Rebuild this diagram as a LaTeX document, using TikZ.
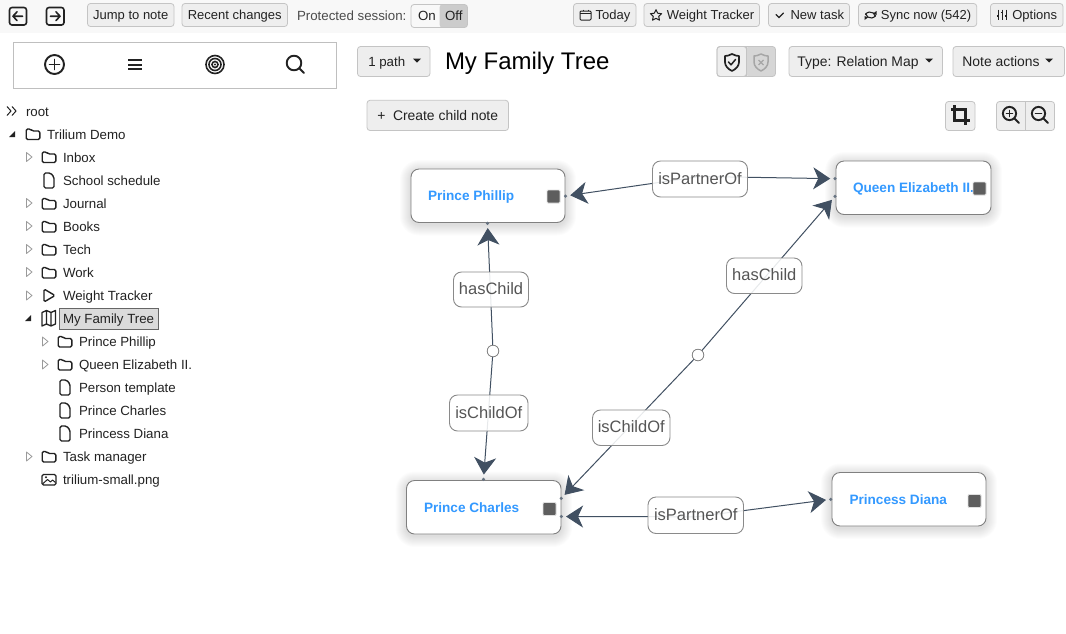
\documentclass[tikz,border=0pt]{standalone}
\usepackage{fontspec}
\setmainfont{Liberation Sans}
\usetikzlibrary{arrows.meta}
\definecolor{barbg}{HTML}{F8F8F8}
\definecolor{btnbg}{HTML}{EEEEEE}
\definecolor{btnline}{HTML}{C4C4C4}
\definecolor{ink}{HTML}{222222}
\definecolor{relc}{HTML}{415062}
\definecolor{notec}{HTML}{3399FF}
\definecolor{sqc}{HTML}{5E5E5E}
\definecolor{lblink}{HTML}{555555}
\definecolor{lblline}{HTML}{8A8A8A}
\definecolor{tri}{HTML}{9A9A9A}
\tikzset{
  btn/.style={draw=btnline,fill=btnbg,line width=.8pt,rounded corners=3pt,inner sep=0pt,outer sep=0pt,text=ink,font=\fontsize{13}{16}\selectfont,text height=10.8pt,text depth=1.6pt},
  plain/.style={inner sep=0pt,outer sep=0pt,text=ink},
  treetxt/.style={plain,anchor=base west,font=\fontsize{13.3}{16}\selectfont},
  notebox/.style={draw=black!50,fill=white,line width=.9pt,rounded corners=8pt,inner sep=0pt,outer sep=0pt},
  notetxt/.style={plain,text=notec,anchor=base west,font=\fontsize{13.6}{16}\bfseries\selectfont},
  notesq/.style={fill=sqc,draw=black!12,line width=.8pt,rounded corners=1pt,minimum size=13pt,inner sep=0pt},
  anchordot/.style={circle,fill=relc!80!white,draw=none,minimum size=3.5pt,inner sep=0pt,outer sep=3pt},
  midcirc/.style={circle,fill=white,draw=black!50,line width=.7pt,minimum size=11.5pt,inner sep=0pt},
  rellbl/.style={draw=lblline,line width=.9pt,fill=white,fill opacity=.88,text opacity=1,rounded corners=8pt,inner sep=0pt,outer sep=0pt,text=lblink,font=\fontsize{16.5}{19}\selectfont,text height=12.5pt,text depth=2.5pt},
  rel/.style={draw=relc,line width=1pt,{Stealth[length=17pt,width=22pt,inset=5pt,fill=relc]}-{Stealth[length=17pt,width=22pt,inset=5pt,fill=relc]}},
  ico/.style={draw=ink,line width=1.3pt,line join=round,line cap=round},
  folder/.pic={\draw[ico,line width=1.4pt,rounded corners=1.5pt] (-6.8,5.5) -- (-6.8,-5) -- (-2.5,-5) -- (-.8,-3) -- (6.8,-3) -- (6.8,5.5) -- cycle;},
  docicon/.pic={\draw[ico,line width=1.4pt,rounded corners=1.5pt] (-5,7.5) -- (-5,-7.5) -- (1.5,-7.5) -- (5,-3.5) -- (5,7.5) -- cycle;},
  opentri/.pic={\fill[ink] (-3,3) -- (3,3) -- (3,-3) -- cycle;},
  closedtri/.pic={\draw[tri,line width=.8pt,line join=round] (-2.5,-4.5) -- (3,0) -- (-2.5,4.5) -- cycle;}
}
\newcommand{\bbtn}[6]{\node[btn,minimum width={#3-#2},minimum height={#5-#4}] (#1) at ({(#2+#3)/2},{(#4+#5)/2}) {#6};}
\newcommand{\treerow}[4]{\node[treetxt] (#1) at (#2,{#3+5.4}) {#4};}
\newcommand{\caretmark}[2]{\fill[ink] ({#1-4},{#2-2}) -- ({#1+4},{#2-2}) -- (#1,{#2+2}) -- cycle;}
\newcommand{\softshadow}[4]{\foreach \s in {1,...,11}{\fill[black,fill opacity=.013,rounded corners={8+\s}] ({#1-\s},{#2+2-\s}) rectangle ({#3+\s},{#4+2+\s});}}
\newcommand{\lblnode}[6]{\node[rellbl,minimum width={#3-#2},minimum height={#5-#4}] (#1) at ({(#2+#3)/2},{(#4+#5)/2}) {#6};}
\begin{document}
\begin{tikzpicture}[x=1pt,y=-1pt]
\useasboundingbox (0,0) rectangle (1066,633);
\fill[white] (0,0) rectangle (1066,633);
\fill[barbg] (0,0) rectangle (1066,32.5);

% top bar
\draw[ico,line width=1.6pt,rounded corners=2.5pt] (9.5,7.5) rectangle (26.5,25);
\draw[ico,line width=1.6pt] (22.5,16.2) -- (13,16.2) (17,11.8) -- (13,16.2) -- (17,20.6);
\draw[ico,line width=1.6pt,rounded corners=2.5pt] (46.5,7.5) rectangle (64,25);
\draw[ico,line width=1.6pt] (50.5,16.2) -- (60,16.2) (56,11.8) -- (60,16.2) -- (56,20.6);
\bbtn{jump}{87.5}{174}{3.5}{26.5}{Jump to note}
\bbtn{recent}{182}{287.5}{3.5}{26.5}{Recent changes}
\node[treetxt,text=black!70] (prot) at (297,20) {Protected session:};
\fill[black!20,rounded corners=3pt] (439.5,4.5) rectangle (467.5,27.5);
\draw[btnline,line width=.8pt,rounded corners=3pt] (411,4.5) rectangle (467.5,27.5);
\node[treetxt] (onlbl) at (418,20.5) {On};
\node[treetxt] (offlbl) at (445,20.5) {Off};
\bbtn{today}{573.5}{636}{3.5}{26.5}{\rule{16.5pt}{0pt}Today}
\bbtn{wt}{644}{759.5}{3.5}{26.5}{\rule{17.4pt}{0pt}Weight Tracker}
\bbtn{newtask}{768.5}{849.5}{3.5}{26.5}{\rule{16.6pt}{0pt}New task}
\bbtn{sync}{858.5}{976.7}{3.5}{26.5}{\rule{17pt}{0pt}Sync now (542)}
\bbtn{options}{990.5}{1063}{3.5}{26.5}{\rule{16pt}{0pt}Options}
% small toolbar icons
\draw[ink,line width=1pt,rounded corners=1pt] (580,11) rectangle (591,20);
\draw[ink,line width=1pt] (580,13.8) -- (591,13.8) (583,9.5) -- (583,11) (588,9.5) -- (588,11);
\draw[ink,line width=1pt,line join=round] (656,9.6) -- (657.7,13.2) -- (661.6,13.7) -- (658.7,16.4) -- (659.5,20.2) -- (656,18.3) -- (652.5,20.2) -- (653.3,16.4) -- (650.4,13.7) -- (654.3,13.2) -- cycle;
\draw[ink,line width=1.1pt,line cap=round] (776,14.5) -- (779,17.5) -- (783.5,13);
\draw[ink,line width=1.1pt] (865.5,13.5) arc[start angle=190,end angle=330,x radius=5.5,y radius=-5.5];
\draw[ink,line width=1.1pt] (875.5,16.5) arc[start angle=10,end angle=150,x radius=5.5,y radius=-5.5];
\fill[ink] (876.5,11) -- (876.5,15) -- (873,13.5) -- cycle (864.5,20) -- (864.5,16) -- (868,17.5) -- cycle;
\draw[ink,line width=1pt] (998,9.5) -- (998,20) (1002,9.5) -- (1002,20) (1006,9.5) -- (1006,20);
\draw[ink,line width=1.6pt] (996.8,16) -- (999.2,16) (1000.8,12.5) -- (1003.2,12.5) (1004.8,16) -- (1007.2,16);

% left panel
\draw[black!25,line width=.9pt] (13.5,42.5) rectangle (336.5,88);
\draw[ico,line width=1.9pt] (54.5,64.5) circle[radius=9.5];
\draw[ico,line width=1.9pt] (54.5,59.5) -- (54.5,69.5) (49.5,64.5) -- (59.5,64.5);
\draw[ink,line width=2pt] (128,60) -- (142,60) (128,64.5) -- (142,64.5) (128,69) -- (142,69);
\draw[ink,line width=1.6pt] (215,64.5) circle[radius=9] circle[radius=6] circle[radius=3];
\fill[ink] (215,64.5) circle[radius=1.2];
\draw[ico,line width=1.9pt] (294,63) circle[radius=7.3] (299.5,68.5) -- (304,73);

% tree
\draw[ink,line width=1pt] (7,106.5) -- (11,111) -- (7,115.5) (12,106.5) -- (16,111) -- (12,115.5);
\treerow{root}{26}{111}{root}
\pic at (12,134) {opentri};
\pic at (33,134) {folder};
\treerow{demo}{47}{134}{Trilium Demo}
\pic at (29,157) {closedtri};
\pic at (49,157) {folder};
\treerow{inbox}{63}{157}{Inbox}
\pic at (49,180.5) {docicon};
\treerow{school}{63}{180}{School schedule}
\pic at (29,203) {closedtri};
\pic at (49,203.5) {folder};
\treerow{journal}{63}{203}{Journal}
\pic at (29,226) {closedtri};
\pic at (49,226.5) {folder};
\treerow{books}{63}{226}{Books}
\pic at (29,249) {closedtri};
\pic at (49,249.5) {folder};
\treerow{tech}{63}{249}{Tech}
\pic at (29,272) {closedtri};
\pic at (49,272.5) {folder};
\treerow{work}{63}{272}{Work}
\pic at (29,295.5) {closedtri};
\draw[ico,line width=1.4pt,rounded corners=1.5pt] (44,289) -- (55,295.5) -- (44,302) -- cycle;
\treerow{tracker}{63}{295}{Weight Tracker}
\pic at (28,318) {opentri};
\draw[ico,line width=1.3pt,line join=round] (42,312.5) -- (46.5,310.5) -- (51,312.5) -- (55.5,310.5) -- (55.5,324) -- (51,326) -- (46.5,324) -- (42,326) -- cycle (46.5,310.5) -- (46.5,324) (51,312.5) -- (51,326);
\fill[black!14] (59.5,308.5) rectangle (158,329);
\draw[black!60,line width=.9pt] (59.5,308.5) rectangle (158,329);
\treerow{famtree}{63}{318}{My Family Tree}
\pic at (45,341.5) {closedtri};
\pic at (65,341.5) {folder};
\treerow{tphil}{79}{341}{Prince Phillip}
\pic at (45,364.5) {closedtri};
\pic at (65,364.5) {folder};
\treerow{tqueen}{79}{364}{Queen Elizabeth II.}
\pic at (65,387.5) {docicon};
\treerow{tperson}{79}{387}{Person template}
\pic at (65,410.5) {docicon};
\treerow{tcharles}{79}{410}{Prince Charles}
\pic at (65,433.5) {docicon};
\treerow{tdiana}{79}{433}{Princess Diana}
\pic at (29,456.5) {closedtri};
\pic at (49,456.5) {folder};
\treerow{tasks}{63}{456}{Task manager}
\draw[ink,line width=1.3pt,rounded corners=1.5pt] (42,474.5) rectangle (56,485);
\draw[ink,line width=1pt,line join=round] (43,483.5) -- (47.5,479.5) -- (50.5,482) -- (52.5,480) -- (55.5,482.5);
\fill[ink] (46,477.3) circle[radius=1.1];
\treerow{png}{63}{479}{trilium-small.png}

% header
\bbtn{path}{357.5}{430}{46.5}{76.5}{\fontsize{13.3}{16}\selectfont 1 path\rule{14pt}{0pt}}
\caretmark{417}{60.5}
\node[plain,anchor=base west,text=black,font=\fontsize{24}{28}\selectfont] (title) at (445,69.5) {My Family Tree};
\bbtn{shield}{717}{746.5}{46.5}{76.5}{}
\fill[black!16,rounded corners=3pt] (746.5,46.5) rectangle (775.5,76.5);
\draw[btnline,line width=.8pt,rounded corners=3pt] (717,46.5) rectangle (775.5,76.5);
\draw[btnline,line width=.8pt] (746.5,46.5) -- (746.5,76.5);
\draw[ico,line width=1.7pt] (732,54) .. controls (729,55.5) and (727,56) .. (725,56) -- (725,62) .. controls (725,66) and (728,69) .. (732,71) .. controls (736,69) and (739,66) .. (739,62) -- (739,56) .. controls (737,56) and (735,55.5) .. (732,54) -- cycle;
\draw[ico,line width=1.5pt] (728.5,62) -- (731,64.8) -- (735.5,59.5);
\draw[black!35,line width=1.5pt,line join=round] (761,54) .. controls (758,55.5) and (756,56) .. (754,56) -- (754,62) .. controls (754,66) and (757,69) .. (761,71) .. controls (765,69) and (768,66) .. (768,62) -- (768,56) .. controls (766,56) and (764,55.5) .. (761,54) -- cycle;
\draw[black!35,line width=1.2pt] (758.5,60) -- (763.5,65) (763.5,60) -- (758.5,65);
\bbtn{typebtn}{789}{942.5}{46.5}{76.5}{\fontsize{13.9}{16}\selectfont Type: Relation Map\rule{15.5pt}{0pt}}
\caretmark{929}{60.5}
\bbtn{actions}{953}{1064.5}{46.5}{76.5}{\fontsize{13.9}{16}\selectfont Note actions\rule{15.5pt}{0pt}}
\caretmark{1049}{60.5}
\bbtn{create}{367}{508.5}{100.3}{130.5}{\fontsize{13.9}{16}\selectfont +\hspace{7.5pt}Create child note}
\bbtn{cropbtn}{945.5}{975}{101.5}{130.5}{}
\draw[ink,line width=2.1pt,line join=miter] (951,109.5) -- (965.5,109.5) -- (965.5,124.5) (954.5,105) -- (954.5,120.5) -- (970,120.5);
\bbtn{zoomgrp}{996.5}{1054.5}{101.5}{130.5}{}
\draw[btnline,line width=.8pt] (1025.5,101.5) -- (1025.5,130.5);
\draw[ico,line width=1.9pt] (1009.5,113.5) circle[radius=6.6] (1014.5,118.5) -- (1019,123);
\draw[ico,line width=1.6pt] (1006.5,113.5) -- (1012.5,113.5) (1009.5,110.5) -- (1009.5,116.5);
\draw[ico,line width=1.9pt] (1038.5,113.5) circle[radius=6.6] (1043.5,118.5) -- (1048,123);
\draw[ico,line width=1.6pt] (1035.5,113.5) -- (1041.5,113.5);

% relation map: shadows and note boxes
\softshadow{411}{169}{565}{222.5}
\softshadow{836}{161}{991}{214.5}
\softshadow{406.5}{480.5}{561}{534}
\softshadow{832}{472.5}{986}{526}
\node[notebox,minimum width=154pt,minimum height=53.5pt] (phillip) at (488,195.75) {};
\node[notebox,minimum width=155pt,minimum height=53.5pt] (queen) at (913.5,187.75) {};
\node[notebox,minimum width=154.5pt,minimum height=53.5pt] (charles) at (483.75,507.25) {};
\node[notebox,minimum width=154pt,minimum height=53.5pt] (diana) at (909,499.25) {};
\node[notetxt] (phillipt) at (428,200) {Prince Phillip};
\node[notetxt] (queent) at (853,192) {Queen Elizabeth II.};
\node[notetxt] (charlest) at (424,512) {Prince Charles};
\node[notetxt] (dianat) at (849.5,504) {Princess Diana};
\node[notesq] (phillips) at (553.5,196.5) {};
\node[notesq] (queens) at (979.5,188.5) {};
\node[notesq] (charless) at (549.5,509) {};
\node[notesq] (dianas) at (974.5,501) {};

% endpoints
\node[anchordot] (phR) at (565.5,196) {};
\node[anchordot] (phB) at (487.5,223.3) {};
\node[anchordot] (quA) at (835,178.7) {};
\node[anchordot] (quB) at (835,196.3) {};
\node[anchordot] (chT) at (483.5,479.3) {};
\node[anchordot] (chA) at (561.3,498.3) {};
\node[anchordot] (chB) at (561.3,516.5) {};
\node[anchordot] (diL) at (830.7,499.3) {};
\node[midcirc] (c1) at (493,351) {};
\node[midcirc] (c2) at (698,355) {};
\coordinate (m1) at (700,176.5);
\coordinate (m2) at (696,516.8);

% relations
\draw[rel] (phR) -- (m1) -- (quA);
\draw[rel] (phB) -- (c1.center) -- (chT);
\draw[rel] (quB) -- (c2.center) -- (chA);
\draw[rel] (chB) -- (m2) -- (diL);
\node[midcirc] at (c1) {};
\node[midcirc] at (c2) {};

% relation labels
\lblnode{l1}{652.5}{747.5}{161}{197}{isPartnerOf}
\lblnode{l2}{453.5}{528.5}{272}{307}{hasChild}
\lblnode{l3}{726.5}{802}{258}{293.5}{hasChild}
\lblnode{l4}{449.5}{528}{395}{431}{isChildOf}
\lblnode{l5}{592.5}{670}{410}{445.5}{isChildOf}
\lblnode{l6}{648}{743.5}{497}{533.5}{isPartnerOf}
\end{tikzpicture}
\end{document}
